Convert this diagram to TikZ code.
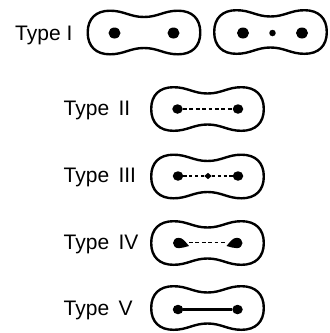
\documentclass[tikz,border=0pt]{standalone}
\usepackage{fontspec}
\setmainfont{Liberation Sans}
\usetikzlibrary{shapes.geometric}
\tikzset{
  outline/.style={line width=2.4pt, line join=round},
  peanut/.pic={
    \draw[outline] (-56.3,0)
      .. controls (-56.3,-14) and (-48,-21.8) .. (-34,-21.8)
      .. controls (-20,-21.8) and (-14,-15.5) .. (0,-15.5)
      .. controls (14,-15.5) and (20,-21.8) .. (34,-21.8)
      .. controls (48,-21.8) and (56.3,-14) .. (56.3,0)
      .. controls (56.3,14) and (48,21.8) .. (34,21.8)
      .. controls (20,21.8) and (14,15.5) .. (0,15.5)
      .. controls (-14,15.5) and (-20,21.8) .. (-34,21.8)
      .. controls (-48,21.8) and (-56.3,14) .. (-56.3,0) -- cycle;
  },
  bigdot/.style={ellipse, fill=black, inner sep=0pt, minimum width=12pt, minimum height=11pt},
  dotb/.style={ellipse, fill=black, inner sep=0pt, minimum width=10.5pt, minimum height=9.5pt},
  smalldot/.style={circle, fill=black, inner sep=0pt, minimum size=6.5pt},
  tinydiam/.style={diamond, fill=black, inner sep=0pt, minimum width=7.5pt, minimum height=6.5pt},
  label/.style={anchor=base west, inner sep=0pt, font=\fontsize{21}{25}\selectfont},
  thindash/.style={line width=1.4pt, dash pattern=on 3.8pt off 2.6pt},
  thickdash/.style={line width=1.9pt, dash pattern=on 3.2pt off 2.6pt},
  solidbond/.style={line width=3.2pt},
}
\begin{document}
\begin{tikzpicture}[x=1pt,y=-1pt]
\useasboundingbox (0,0) rectangle (330,333);
% Type I
\node[label] (t1) at (15,40) {Type I};
\pic at (144,32.5) {peanut};
\node[bigdot] (a1) at (114.5,33) {};
\node[bigdot] (a2) at (173.5,33) {};
\pic at (270.5,32) {peanut};
\node[bigdot] (b1) at (243,33) {};
\node[smalldot] (b2) at (272.5,33) {};
\node[bigdot] (b3) at (302,33) {};
% Type II
\node[label] (t2) at (63.5,115.5) {Type\, II};
\pic at (207.5,109) {peanut};
\node[dotb] (c1) at (177.5,109) {};
\node[dotb] (c2) at (238,109) {};
\draw[thindash] (c1) -- (c2);
% Type III
\node[label] (t3) at (63.5,182.5) {Type\, III};
\pic at (207.5,176.5) {peanut};
\node[dotb] (d1) at (178,176) {};
\node[tinydiam] (d2) at (208,176) {};
\node[dotb] (d3) at (238,176) {};
\draw[thickdash] (d1) -- (d2);
\draw[thickdash] (d2) -- (d3);
% Type IV
\node[label] (t4) at (63.5,249.5) {Type\, IV};
\pic at (207.5,243) {peanut};
\fill (189,246) .. controls (185,241.5) and (183,237.8) .. (178.5,237.8)
  .. controls (175.3,237.8) and (173,240.5) .. (173,243)
  .. controls (173,245.5) and (175.3,248.2) .. (178.5,248.2)
  .. controls (182,248.2) and (185,247) .. (189,246) -- cycle;
\fill (226.5,246) .. controls (230.5,241.5) and (232.5,237.8) .. (237,237.8)
  .. controls (240.2,237.8) and (242.5,240.5) .. (242.5,243)
  .. controls (242.5,245.5) and (240.2,248.2) .. (237,248.2)
  .. controls (233.5,248.2) and (230.5,247) .. (226.5,246) -- cycle;
\coordinate (e1) at (189,242.5);
\coordinate (e2) at (226.5,242.5);
\draw[thindash] (e1) -- (e2);
% Type V
\node[label] (t5) at (63.5,315) {Type\, V};
\pic at (207.5,308) {peanut};
\node[dotb] (f1) at (178,309.5) {};
\node[dotb] (f2) at (237.5,309.5) {};
\draw[solidbond] (f1) -- (f2);
\end{tikzpicture}
\end{document}
